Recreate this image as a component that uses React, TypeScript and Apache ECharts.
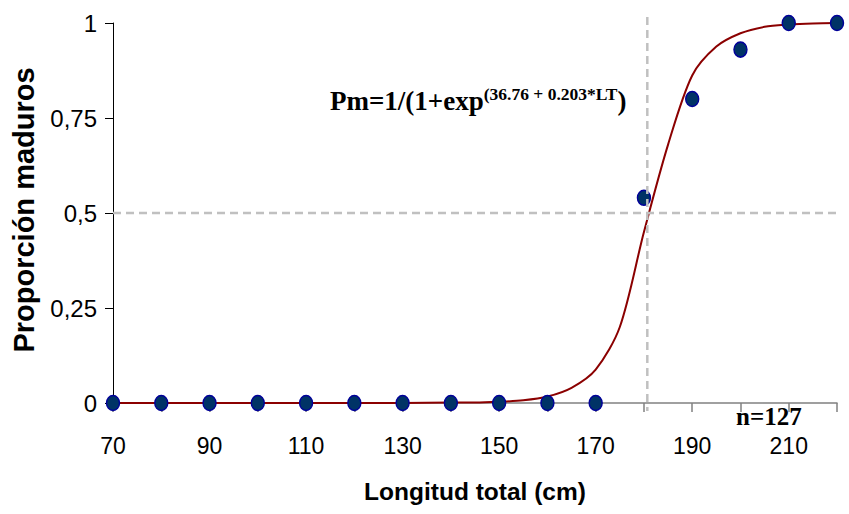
import React, { useEffect, useRef } from "react";
import * as echarts from "echarts";

const LENGTHS = [70, 80, 90, 100, 110, 120, 130, 140, 150, 160, 170, 180, 190, 200, 210, 220];
const PROPORTION = [0, 0, 0, 0, 0, 0, 0, 0, 0, 0, 0, 0.54, 0.8, 0.93, 1, 1];

const CURVE_X = [70, 80, 90, 100, 110, 120, 130, 140, 145, 150, 155, 160, 165, 170, 175, 180, 185, 190, 195, 200, 205, 210, 215, 220];
const CURVE_Y = [0, 0, 0, 0, 0, 0, 0, 0.001, 0.001, 0.003, 0.007, 0.017, 0.04, 0.088, 0.2, 0.45, 0.68, 0.862, 0.938, 0.973, 0.99, 0.996, 0.999, 1];

const L50 = 180.7;
const HALF = 0.5;

const X_TICK_LABELS = ["70", "90", "110", "130", "150", "170", "190", "210"];
const Y_TICK_LABELS = ["0", "0,25", "0,5", "0,75", "1"];

const SANS = "'Liberation Sans', Arial, sans-serif";
const SERIF = "'Liberation Serif', 'Times New Roman', serif";

export default function App() {
  const ref = useRef<HTMLDivElement>(null);

  useEffect(() => {
    if (!ref.current) return;
    const chart = echarts.init(ref.current, null, { renderer: "svg" });
    const ellipse = "path://M0,7.5a6.5,7.5 0 1,0 13,0a6.5,7.5 0 1,0 -13,0z";
    chart.setOption({
      animation: false,
      backgroundColor: "#ffffff",
      grid: { left: 113, right: 12, top: 23, bottom: 111 },
      xAxis: {
        type: "value",
        min: 70,
        max: 220,
        interval: 10,
        axisLine: { show: true, lineStyle: { color: "#808080", width: 1.5 } },
        axisTick: { show: true, length: 9, lineStyle: { color: "#808080", width: 1.5 } },
        axisLabel: {
          show: true,
          margin: 31,
          color: "#000",
          fontFamily: SANS,
          fontSize: 23,
          formatter: (v: number) => (X_TICK_LABELS.includes(String(v)) ? String(v) : ""),
        },
        splitLine: { show: false },
        name: "Longitud total (cm)",
        nameLocation: "middle",
        nameGap: 76,
        nameTextStyle: { color: "#000", fontFamily: SANS, fontSize: 24.5, fontWeight: "bold" },
      },
      yAxis: {
        type: "value",
        min: 0,
        max: 1,
        interval: 0.25,
        axisLine: { show: true, lineStyle: { color: "#000", width: 1 } },
        axisTick: { show: true, length: 8, lineStyle: { color: "#000", width: 1 } },
        axisLabel: {
          show: true,
          margin: 16,
          color: "#000",
          fontFamily: SANS,
          fontSize: 24,
          formatter: (v: number) => Y_TICK_LABELS[Math.round(v / 0.25)] ?? "",
        },
        splitLine: { show: false },
      },
      series: [
        {
          type: "line",
          data: CURVE_X.map((x, i) => [x, CURVE_Y[i]]),
          smooth: 0.3,
          showSymbol: false,
          symbol: "none",
          lineStyle: { color: "#8B0000", width: 2 },
          z: 2,
        },
        {
          type: "scatter",
          data: LENGTHS.map((x, i) => [x, PROPORTION[i]]),
          symbol: ellipse,
          symbolSize: [13, 15],
          itemStyle: { color: "#003366", borderColor: "#000099", borderWidth: 1.5, opacity: 1 },
          z: 3,
        },
        {
          type: "line",
          data: [[70, HALF], [222.5, HALF]],
          clip: false,
          symbol: "none",
          lineStyle: { color: "#C0C0C0", width: 2.5, type: [8, 5] },
          z: 4,
        },
        {
          type: "line",
          data: [[L50, 1.016], [L50, -0.021]],
          clip: false,
          symbol: "none",
          lineStyle: { color: "#C0C0C0", width: 2.5, type: [8, 5] },
          z: 4,
        },
      ],
      graphic: [
        {
          type: "text",
          x: 24,
          y: 210,
          rotation: Math.PI / 2,
          style: {
            text: "Proporción maduros",
            fill: "#000",
            font: `bold 29px ${SANS}`,
            align: "center",
            verticalAlign: "middle",
          },
        },
        {
          type: "text",
          x: 330,
          y: 85,
          style: {
            text: "{a|Pm=1/(1+exp}{b|(36.76 + 0.203*LT}{a|)}",
            align: "left",
            verticalAlign: "top",
            rich: {
              a: { fontFamily: SERIF, fontWeight: "bold", fontSize: 27, lineHeight: 29, fill: "#000", color: "#000", verticalAlign: "bottom" },
              b: { fontFamily: SERIF, fontWeight: "bold", fontSize: 17.5, lineHeight: 23, fill: "#000", color: "#000", verticalAlign: "top" },
            },
          },
        },
        {
          type: "text",
          x: 736,
          y: 416,
          style: {
            text: "n=127",
            fill: "#000",
            font: `bold 25px ${SERIF}`,
            align: "left",
            verticalAlign: "middle",
          },
        },
      ],
    });
    return () => chart.dispose();
  }, []);

  return (
    <div
      ref={ref}
      style={{ position: "fixed", left: 0, top: 0, width: 849, height: 514, background: "#fff" }}
    />
  );
}
